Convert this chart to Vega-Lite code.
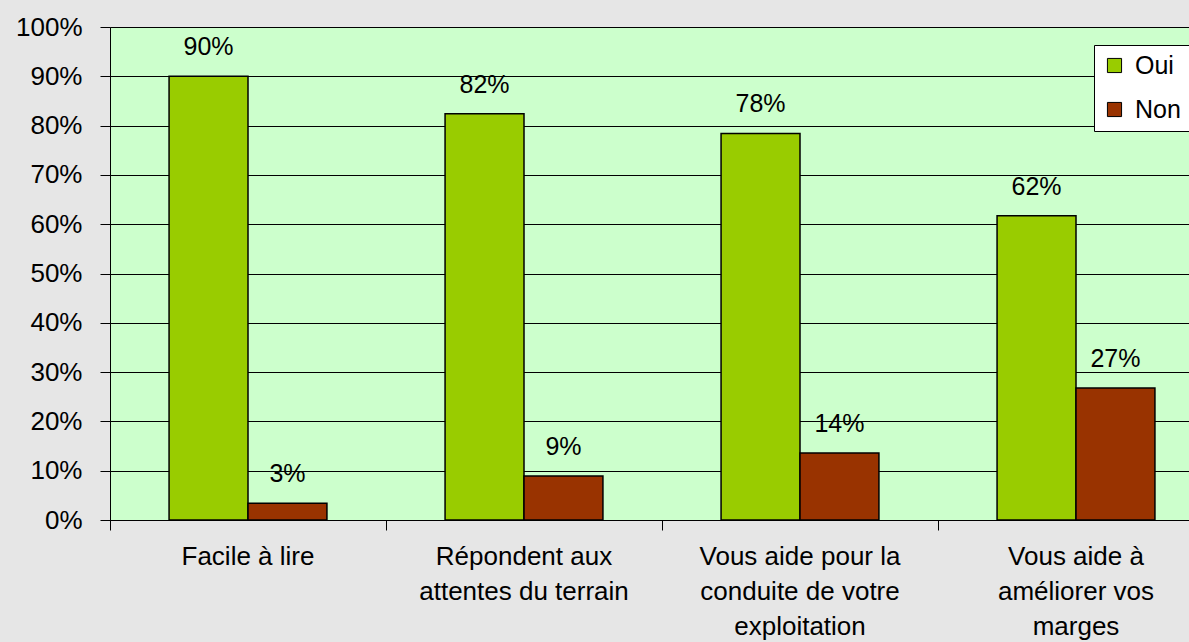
{
  "$schema": "https://vega.github.io/schema/vega-lite/v6.json",
  "width": 1104,
  "height": 493,
  "autosize": "none",
  "padding": {"left": 110, "top": 27, "right": 0, "bottom": 122},
  "background": "#e6e6e6",
  "config": {
    "font": "Liberation Sans",
    "view": {"fill": "#CCFFCC", "stroke": "#808080", "strokeWidth": 1},
    "legend": {
      "orient": "none", "legendX": 984, "legendY": 18, "padding": 8,
      "fillColor": "white", "strokeColor": "black",
      "symbolType": "square", "symbolSize": 200, "symbolStrokeColor": "black", "symbolStrokeWidth": 1,
      "labelFontSize": 25, "labelColor": "black", "rowPadding": 18, "labelOffset": 8, "labelFont": "Liberation Sans"
    }
  },
  "data": {
    "values": [
      {"cat": "Facile à lire", "serie": "Oui", "v": 0.90},
      {"cat": "Facile à lire", "serie": "Non", "v": 0.034},
      {"cat": "Répondent aux\nattentes du terrain", "serie": "Oui", "v": 0.824},
      {"cat": "Répondent aux\nattentes du terrain", "serie": "Non", "v": 0.089},
      {"cat": "Vous aide pour la\nconduite de votre\nexploitation", "serie": "Oui", "v": 0.784},
      {"cat": "Vous aide pour la\nconduite de votre\nexploitation", "serie": "Non", "v": 0.136},
      {"cat": "Vous aide à\naméliorer vos\nmarges", "serie": "Oui", "v": 0.617},
      {"cat": "Vous aide à\naméliorer vos\nmarges", "serie": "Non", "v": 0.268}
    ]
  },
  "encoding": {
    "y": {
      "field": "v", "type": "quantitative",
      "scale": {"domain": [0, 1], "nice": false},
      "axis": {
        "title": null, "format": ".0%", "values": [0, 0.1, 0.2, 0.3, 0.4, 0.5, 0.6, 0.7, 0.8, 0.9, 1],
        "tickSize": 10, "labelPadding": 18, "labelFontSize": 26, "labelColor": "black",
        "tickColor": "black", "domainColor": "black", "gridColor": "black", "gridWidth": 1, "gridOpacity": 1
      }
    },
    "xOffset": {"field": "serie", "type": "nominal", "sort": ["Oui", "Non"]}
  },
  "resolve": {"axis": {"x": "independent"}},
  "layer": [
    {
      "mark": {"type": "bar", "stroke": "black", "strokeWidth": 1.5},
      "encoding": {
        "x": {
          "field": "cat", "type": "nominal", "sort": null,
          "scale": {"paddingInner": 0.428, "paddingOuter": 0.214},
          "axis": {
            "title": null, "orient": "bottom", "labelAngle": 0, "ticks": false, "domain": true, "domainColor": "black",
            "labelExpr": "split(datum.label, '\\n')", "labelFontSize": 26, "labelLineHeight": 35,
            "labelColor": "black", "labelPadding": 23, "labelLimit": 400
          }
        },
        "color": {
          "field": "serie", "type": "nominal",
          "scale": {"domain": ["Oui", "Non"], "range": ["#99CC00", "#993300"]},
          "legend": {"title": null}
        }
      }
    },
    {
      "mark": {"type": "text", "dy": -21, "baseline": "alphabetic", "fontSize": 25, "color": "black"},
      "encoding": {
        "x": {
          "field": "cat", "type": "nominal", "sort": null,
          "axis": {
            "title": null, "orient": "bottom", "labels": false, "ticks": true, "tickSize": 10, "tickColor": "black",
            "bandPosition": -0.3734, "domain": false, "offset": 0
          }
        },
        "text": {"field": "v", "type": "quantitative", "format": ".0%"}
      }
    }
  ]
}
